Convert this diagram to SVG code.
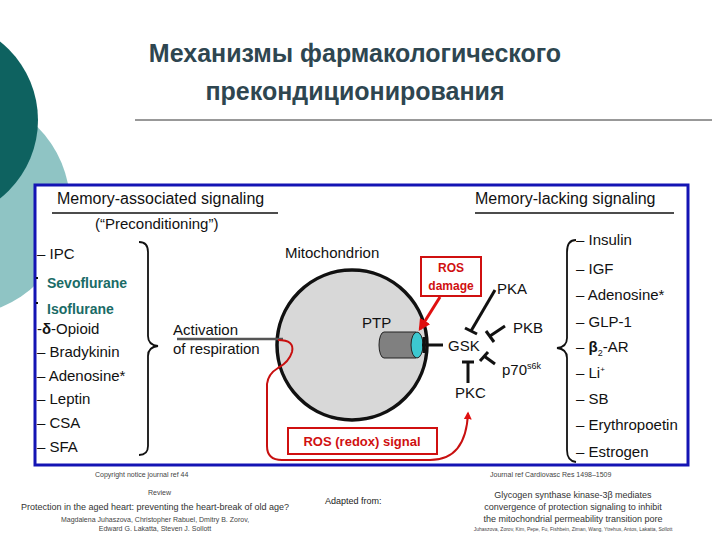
<svg xmlns="http://www.w3.org/2000/svg" width="720" height="540" viewBox="0 0 720 540">
<style>
text{font-family:"Liberation Sans",Arial,sans-serif;}
.t{font-size:25px;fill:#2e4650;text-anchor:middle;font-weight:bold}
.l{font-size:15px;fill:#111}
.tl{font-size:14px;fill:#1a6b66;font-weight:bold}
.r{font-size:14px;fill:#d01010;font-weight:bold}
.s{font-size:7px;fill:#444}
.k{stroke:#111;stroke-width:3;fill:none}
</style>
<defs>
<marker id="ar" viewBox="0 0 10 10" refX="8" refY="5" markerWidth="4" markerHeight="4" orient="auto"><path d="M0,0L10,5L0,10z" fill="#e01010"/></marker>
</defs>
<rect width="720" height="540" fill="#fff"/>
<circle cx="-40" cy="205" r="110" fill="#8fc4c4"/>
<circle cx="-62" cy="120" r="100" fill="#0e6260"/>
<text class="t" x="355" y="62">Механизмы фармакологического</text>
<text class="t" x="355" y="100">прекондиционирования</text>
<line x1="135" y1="120" x2="712" y2="120" stroke="#333" stroke-width="1"/>
<rect x="35" y="185" width="653" height="280" fill="#fff" stroke="#1414b4" stroke-width="3"/>
<g id="headers">
<text x="57" y="204" fill="#111" style="font-size:16px">Memory-associated signaling</text>
<line x1="52" y1="213" x2="278" y2="213" stroke="#111" stroke-width="1.5"/>
<text x="95" y="229" style="font-size:15px" fill="#111">(“Preconditioning”)</text>
<text x="475" y="204" style="font-size:16px" fill="#111">Memory-lacking signaling</text>
<line x1="475" y1="213" x2="674" y2="213" stroke="#111" stroke-width="1.5"/>
</g>
<g id="left-list">
<text class="l" x="37" y="259">– IPC</text>
<text class="tl" x="47" y="288">Sevoflurane</text>
<text class="tl" x="47" y="314">Isoflurane</text>
<text class="l" x="37" y="334">-<tspan font-weight="bold">δ</tspan>-Opioid</text>
<text class="l" x="37" y="357">– Bradykinin</text>
<text class="l" x="37" y="381">– Adenosine*</text>
<text class="l" x="37" y="404">– Leptin</text>
<text class="l" x="37" y="428">– CSA</text>
<text class="l" x="37" y="452">– SFA</text>
<line x1="36" y1="278" x2="38" y2="278" stroke="#111" stroke-width="2"/>
<line x1="36" y1="303" x2="38" y2="303" stroke="#111" stroke-width="2"/>
<path class="k" style="stroke-width:1.8" d="M139,242Q148,242 148,252L148,336Q148,345 158,346Q148,347 148,356L148,446Q148,455 139,455"/>
</g>
<g id="right-list">
<path class="k" style="stroke-width:1.8" d="M576,240Q567,240 567,252L567,338Q567,347 557,348Q567,349 567,358L567,450Q567,461 576,462"/>
<text class="l" x="576" y="245">– Insulin</text>
<text class="l" x="576" y="274">– IGF</text>
<text class="l" x="576" y="300">– Adenosine*</text>
<text class="l" x="576" y="327">–  GLP-1</text>
<text class="l" x="576" y="352">– <tspan font-weight="bold">β</tspan><tspan style="font-size:9px" dy="4">2</tspan><tspan dy="-4">-AR</tspan></text>
<text class="l" x="576" y="378">– Li<tspan style="font-size:8px" dy="-6">+</tspan></text>
<text class="l" x="576" y="404">– SB</text>
<text class="l" x="576" y="430">– Erythropoetin</text>
<text class="l" x="576" y="457">– Estrogen</text>
</g>
<g id="mitochondrion">
<circle cx="352" cy="345" r="75" fill="#d8d8d8" stroke="#111" stroke-width="3.5"/>
<text class="l" x="285" y="258">Mitochondrion</text>
<text class="l" x="362" y="328">PTP</text>
<path d="M384,332L416,332L416,358L384,358A5,13 0 0 1 384,332z" fill="#808080" stroke="#222" stroke-width="1"/>
<ellipse cx="417" cy="345" rx="6" ry="13" fill="#3cc8d0" stroke="#222" stroke-width="1"/>
</g>
<g id="activation">
<text class="l" x="173" y="335">Activation</text>
<text class="l" x="173" y="354">of respiration</text>
<line x1="177" y1="339" x2="283" y2="339" stroke="#555" stroke-width="2.5"/>
</g>
<g id="kinases">
<text class="l" x="448" y="351">GSK</text>
<text class="l" x="497" y="294">PKA</text>
<text class="l" x="513" y="333">PKB</text>
<text class="l" x="502" y="375">p70<tspan style="font-size:9px" dy="-6">s6k</tspan></text>
<text class="l" x="455" y="398">PKC</text>
</g>
<g id="ros-damage">
<rect x="421" y="257" width="60" height="39" fill="#fff" stroke="#d01010" stroke-width="2"/>
<text class="r" x="451" y="272" text-anchor="middle" style="font-size:12px">ROS</text>
<text class="r" x="451" y="290" text-anchor="middle" style="font-size:12px">damage</text>
</g>
<g id="ros-signal">
<rect x="288" y="428" width="149" height="26" fill="#fff" stroke="#d01010" stroke-width="2"/>
<text class="r" x="362" y="446" text-anchor="middle" style="font-size:13px">ROS (redox) signal</text>
</g>
<g id="connectors">
<line x1="422" y1="345" x2="443" y2="345" class="k"/>
<line x1="424" y1="337" x2="424" y2="353" class="k"/>
<line x1="495" y1="290" x2="471" y2="331" class="k"/>
<line x1="465" y1="328" x2="477" y2="334" class="k"/>
<line x1="505" y1="326" x2="490" y2="336" class="k"/>
<line x1="486" y1="331" x2="494" y2="342" class="k"/>
<line x1="495" y1="364" x2="484" y2="356" class="k"/>
<line x1="480" y1="361" x2="488" y2="352" class="k"/>
<line x1="468" y1="383" x2="468" y2="362" class="k"/>
<line x1="462" y1="362" x2="474" y2="362" class="k"/>
<line x1="440" y1="297" x2="420" y2="329" stroke="#e01010" stroke-width="3" marker-end="url(#ar)"/>
<path d="M278,340Q295,340 292,352Q289,362 278,368Q268,374 267,384L267,446Q267,460 282,460L430,460Q466,460 468,413" fill="none" stroke="#c81010" stroke-width="2" marker-end="url(#ar)"/>
</g>
<g id="footer">
<text class="s" x="95" y="477">Copyright notice journal ref 44</text>
<text class="s" x="490" y="477">Journal ref Cardiovasc Res 1498–1509</text>
<text class="s" x="148" y="495">Review</text>
<text x="155" y="510" text-anchor="middle" style="font-size:9px" fill="#333">Protection in the aged heart: preventing the heart-break of old age?</text>
<text class="s" x="155" y="522" text-anchor="middle">Magdalena Juhaszova, Christopher Rabuel, Dmitry B. Zorov,</text>
<text class="s" x="155" y="531" text-anchor="middle">Edward G. Lakatta, Steven J. Sollott</text>
<text x="325" y="504" style="font-size:9px" fill="#222">Adapted from:</text>
<text x="573" y="498" text-anchor="middle" style="font-size:9px" fill="#333">Glycogen synthase kinase-3β mediates</text>
<text x="573" y="510" text-anchor="middle" style="font-size:9px" fill="#333">convergence of protection signaling to inhibit</text>
<text x="573" y="522" text-anchor="middle" style="font-size:9px" fill="#333">the mitochondrial permeability transition pore</text>
<text class="s" x="573" y="531" text-anchor="middle" style="font-size:5px">Juhaszova, Zorov, Kim, Pepe, Fu, Fishbein, Ziman, Wang, Ytrehus, Antos, Lakatta, Sollott</text>
</g>
</svg>
